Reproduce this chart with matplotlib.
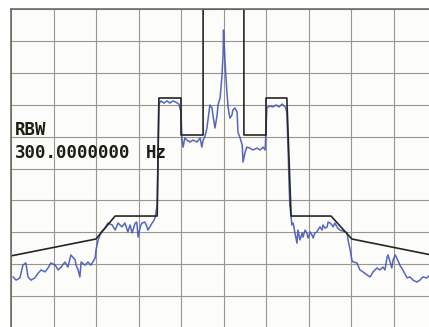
import numpy as np
import matplotlib
matplotlib.use("Agg")
import matplotlib.pyplot as plt

# frequency offset (kHz) and level (dB) of the spectral mask
mask_f = [-50, -30, -25.5, -15.6, -15.2, -10, -10, -4.8, -4.8,
          4.8, 4.8, 10, 10, 14.9, 15.9, 25.3, 30.2, 50]
mask_db = [-77.4, -72.1, -64.9, -64.9, -27.9, -27.9, -39.5, -39.5, 0,
           0, -39.5, -39.5, -27.9, -27.9, -64.9, -64.9, -72.1, -77.4]

# measured trace
trace_f = [-49.5, -48.8, -47.9, -47.2, -46.5, -46.0, -45.3, -44.4, -43.6, -42.9,
           -42.0, -41.3, -40.6, -39.6, -38.9, -38.2, -37.3, -36.6, -35.9, -34.9,
           -34.7, -34.2, -33.8, -33.5, -32.6, -31.9, -31.2, -30.2, -30.0, -29.5,
           -28.8, -27.9, -27.2, -26.2, -25.5, -24.8, -23.9, -23.2, -22.5, -22.0,
           -21.5, -20.8, -20.4, -20.1, -19.6, -19.2, -18.5, -18.0, -17.8, -17.3,
           -16.8, -16.6, -16.1, -15.6, -15.4, -15.2, -14.7, -14.0, -13.3, -12.6,
           -11.9, -11.2, -10.5, -10.0, -9.8, -9.5, -9.1, -8.6, -7.9, -7.2,
           -6.2, -5.5, -5.1, -4.8, -4.4, -3.9, -3.6, -3.2, -2.7, -2.5,
           -2.0, -1.5, -1.3, -0.8, -0.4, -0.1, 0.0, 0.1, 0.4, 0.8,
           1.1, 1.5, 2.0, 2.2, 2.7, 3.2, 3.4, 3.9, 4.4, 4.6,
           5.1, 5.5, 6.2, 6.9, 7.9, 8.6, 9.3, 9.8, 10.0, 10.2,
           10.9, 11.6, 12.4, 13.1, 13.8, 14.5, 14.9, 15.2, 15.4, 15.6,
           16.1, 16.4, 16.8, 17.3, 17.5, 18.0, 18.5, 18.7, 19.2, 19.6,
           19.9, 20.4, 20.8, 21.1, 21.5, 22.0, 22.2, 22.7, 23.2, 23.4,
           23.9, 24.4, 24.6, 25.1, 25.5, 25.8, 26.2, 26.7, 26.9, 27.4,
           28.1, 28.6, 29.1, 29.3, 29.8, 30.2, 30.5, 31.4, 32.1, 32.8,
           33.8, 34.5, 35.2, 36.1, 36.8, 37.5, 38.0, 38.5, 38.7, 39.2,
           39.6, 39.9, 40.4, 40.8, 41.5, 42.2, 43.2, 43.9, 44.6, 45.5,
           46.2, 46.9, 47.8, 48.6, 49.5]
trace_db = [-84.0, -85.0, -84.3, -80.3, -79.6, -84.0, -85.0, -84.3, -82.8, -81.8,
            -82.4, -81.2, -79.6, -80.3, -81.8, -80.9, -79.3, -80.9, -77.1, -78.7,
            -80.3, -81.8, -84.0, -79.3, -80.3, -79.3, -80.3, -78.1, -75.5, -72.4,
            -69.9, -68.7, -67.1, -67.7, -69.3, -67.1, -68.3, -67.1, -69.9, -67.7,
            -70.2, -67.1, -66.8, -71.5, -68.3, -67.1, -66.8, -68.3, -69.3, -68.3,
            -67.1, -66.8, -65.5, -61.4, -44.2, -29.8, -28.8, -29.5, -28.8, -29.5,
            -28.8, -29.2, -29.8, -32.3, -40.4, -43.3, -40.4, -41.1, -41.7, -41.1,
            -41.7, -40.4, -43.3, -41.1, -40.1, -37.3, -34.2, -30.1, -31.0, -33.2,
            -37.3, -33.2, -30.1, -27.9, -21.6, -14.4, -6.6, -9.1, -17.6, -26.0,
            -31.0, -34.2, -33.2, -31.7, -31.0, -32.3, -38.6, -40.4, -42.6, -48.0,
            -44.8, -43.3, -43.6, -44.2, -43.6, -44.2, -43.3, -44.2, -37.9, -31.0,
            -30.4, -30.7, -30.1, -30.7, -29.8, -30.7, -32.3, -44.2, -53.6, -61.4,
            -67.7, -67.1, -70.2, -73.4, -69.3, -72.4, -70.2, -71.5, -69.3, -70.2,
            -71.8, -69.9, -70.8, -71.8, -70.2, -69.9, -69.3, -68.3, -69.3, -67.7,
            -68.7, -68.3, -66.8, -67.1, -67.7, -68.3, -67.1, -68.3, -68.7, -69.3,
            -69.6, -69.9, -70.2, -72.4, -75.5, -78.7, -79.3, -79.6, -81.8, -82.4,
            -83.4, -84.0, -82.4, -81.2, -81.8, -80.9, -81.8, -77.7, -77.1, -79.3,
            -81.2, -78.7, -77.1, -78.1, -80.3, -81.8, -84.3, -84.0, -85.0, -85.6,
            -85.0, -84.0, -84.3, -83.4, -84.3]

fig = plt.figure(figsize=(4.29, 3.27), dpi=100, facecolor="white")
# plot area runs a little past the right and bottom edges of the picture
ax = fig.add_axes([11/429, -1/327, 425/429, 319/327])
ax.set_facecolor("#fcfcfa")

ax.set_xlim(-50, 50)
ax.set_ylim(-100, 0)
ax.set_xticks(np.arange(-50, 51, 10))
ax.set_yticks(np.arange(-100, 1, 10))
ax.tick_params(length=0, labelbottom=False, labelleft=False)
ax.grid(True, color="#999689", linewidth=0.8)
for s in ax.spines.values():
    s.set_color("#6e6c66")
    s.set_linewidth(1.2)

ax.plot(trace_f, trace_db, color="#4456b8", linewidth=1.1, alpha=0.9)
ax.plot(mask_f, mask_db, color="#262626", linewidth=1.2)

txt = dict(family="DejaVu Sans Mono", fontweight="bold", fontsize=12.5,
           color="#1e1e14", transform=fig.transFigure)
fig.text(15/429, 1 - 135/327, "RBW", **txt)
fig.text(15/429, 1 - 158/327, "300.0000000", **txt)
fig.text(146/429, 1 - 158/327, "Hz", **txt)

fig.savefig("out.png", dpi=100, facecolor="white")
